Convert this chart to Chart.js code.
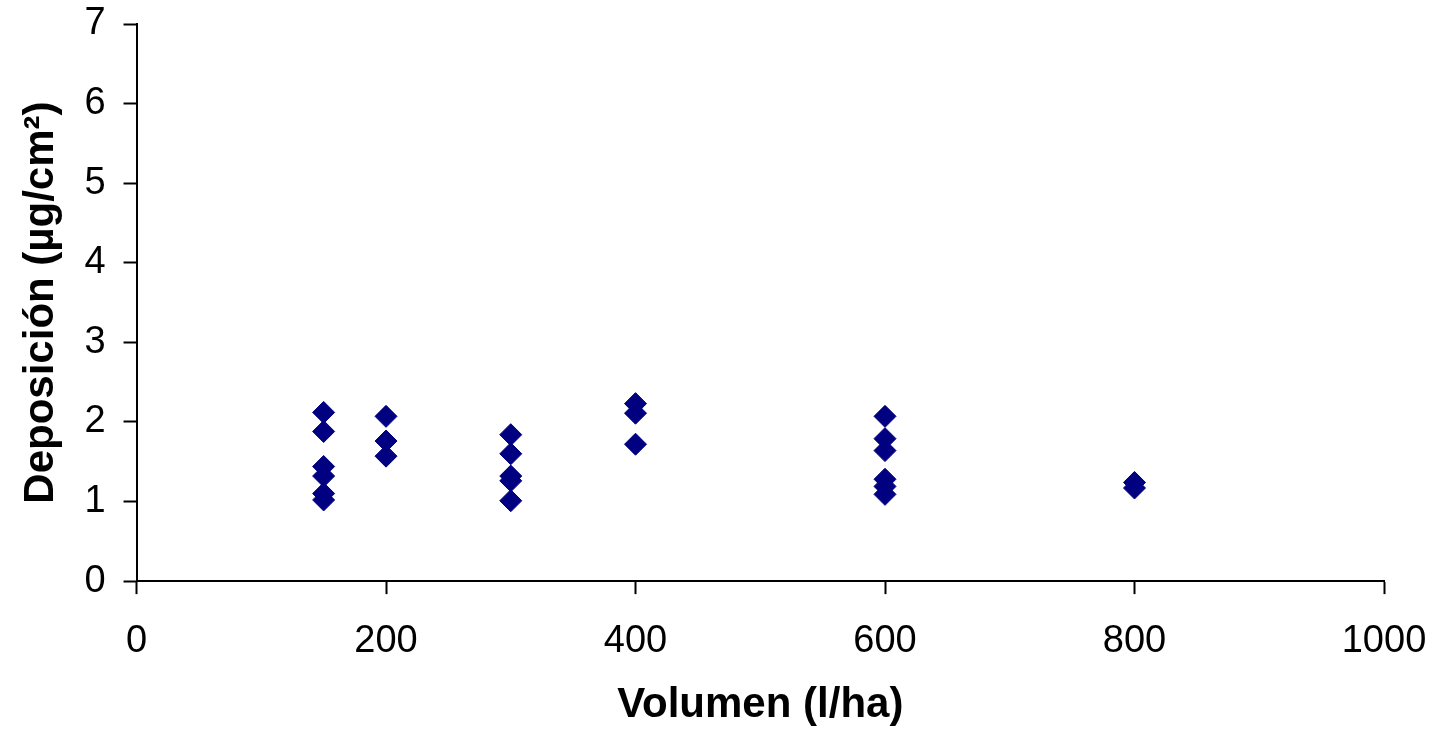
<!DOCTYPE html>
<html>
<head>
<meta charset="utf-8">
<style>
  html, body { margin: 0; padding: 0; background: #ffffff; }
  #wrap { width: 1436px; height: 735px; }
</style>
<script src="https://cdn.jsdelivr.net/npm/chart.js@4/dist/chart.umd.min.js"></script>
</head>
<body>
<div id="wrap"><canvas id="chart" width="1436" height="735"></canvas></div>
<script>
// Spray volume (l/ha) and the deposition measured at each volume
const volumes = [150, 200, 300, 400, 600, 800];
const dep150 = [2.12, 1.88, 1.44, 1.32, 1.10, 1.02];
const dep200 = [2.07, 1.76, 1.57];
const dep300 = [1.84, 1.60, 1.32, 1.26, 1.01];
const dep400 = [2.23, 2.11, 1.72];
const dep600 = [2.07, 1.79, 1.64, 1.28, 1.19, 1.09];
const dep800 = [1.24, 1.17];
const depositions = [dep150, dep200, dep300, dep400, dep600, dep800];

const xTicks = [0, 200, 400, 600, 800, 1000];
const yTicks = [0, 1, 2, 3, 4, 5, 6, 7];

const points = [];
volumes.forEach((v, i) => {
  depositions[i].forEach(d => points.push({ x: v, y: d }));
});

const family = "'Liberation Sans', Arial, sans-serif";
// line heights set the gaps between axis, tick labels and titles
const xTickFont = { family, size: 38, lineHeight: 2.47 };
const yTickFont = { family, size: 38, lineHeight: 0.1 };
const xTitleFont = { family, size: 42, weight: 'bold', lineHeight: 0.81 };
const yTitleFont = { family, size: 42, weight: 'bold' };

new Chart(document.getElementById('chart'), {
  type: 'scatter',
  data: {
    datasets: [{
      data: points,
      pointStyle: 'rectRot',
      pointRadius: 11,
      pointHoverRadius: 11,
      backgroundColor: '#000080',
      borderColor: '#000080',
      borderWidth: 1
    }]
  },
  options: {
    responsive: false,
    animation: false,
    layout: { padding: { left: 16, right: 52, top: 24, bottom: 13 } },
    plugins: {
      legend: { display: false },
      tooltip: { enabled: false }
    },
    scales: {
      x: {
        type: 'linear',
        min: xTicks[0],
        max: xTicks[xTicks.length - 1],
        afterBuildTicks: axis => { axis.ticks = xTicks.map(v => ({ value: v })); },
        border: { color: '#000000', width: 2 },
        grid: { drawOnChartArea: false, drawTicks: true, tickLength: 13, tickWidth: 2, tickColor: '#000000' },
        ticks: { color: '#000000', font: xTickFont, padding: 0, maxRotation: 0, callback: v => String(v) },
        title: { display: true, text: 'Volumen (l/ha)', color: '#000000', font: xTitleFont, padding: { top: 0, bottom: 0 } }
      },
      y: {
        type: 'linear',
        min: yTicks[0],
        max: yTicks[yTicks.length - 1],
        afterBuildTicks: axis => { axis.ticks = yTicks.map(v => ({ value: v })); },
        border: { color: '#000000', width: 2 },
        grid: { drawOnChartArea: false, drawTicks: true, tickLength: 13, tickWidth: 2, tickColor: '#000000' },
        ticks: { color: '#000000', font: yTickFont, padding: 18, callback: v => String(v) },
        title: { display: true, text: 'Deposición (µg/cm²)', color: '#000000', font: yTitleFont, padding: { top: 0, bottom: 0 } }
      }
    }
  }
});
</script>
</body>
</html>
